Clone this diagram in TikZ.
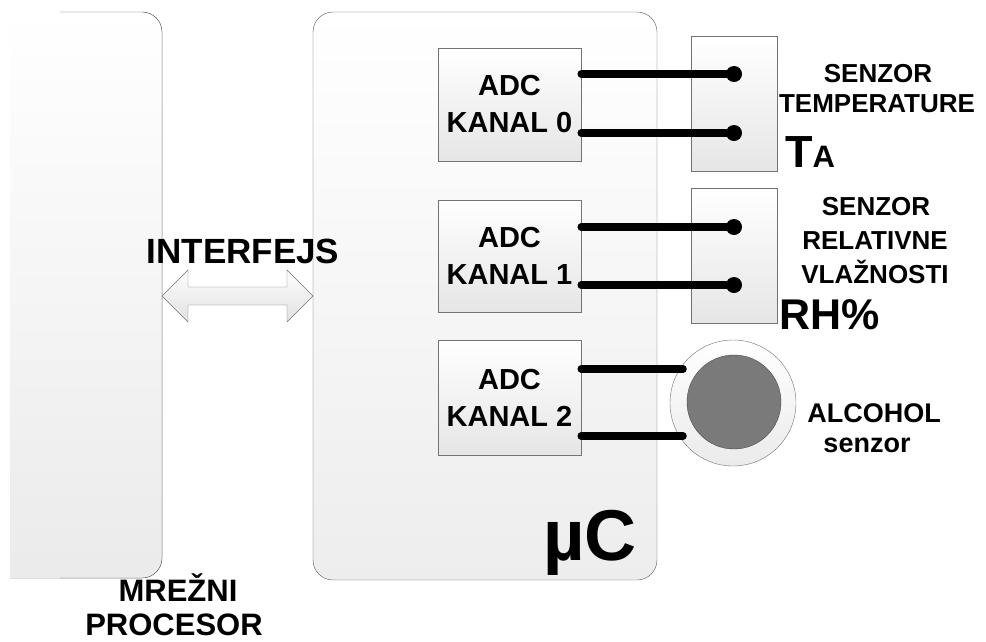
\documentclass[tikz,border=0pt]{standalone}
\usepackage{fontspec}
\setmainfont{Liberation Sans}

\begin{document}
\begin{tikzpicture}[
  x=1pt, y=-1pt,
  frame/.style={draw=black!65, rounded corners=20pt, top color=white, bottom color=black!7},
  adcbox/.style={draw=black!55, top color=white, bottom color=black!10, minimum width=143pt, minimum height=#1, inner sep=0pt,
    align=center, font=\fontsize{29}{37}\selectfont\bfseries},
  sensbox/.style={draw=black!55, top color=white, bottom color=black!10, minimum width=86pt, minimum height=135pt, inner sep=0pt},
  wire/.style={line width=7.5pt, line cap=round},
  pin/.style={circle, fill=black, minimum size=16pt, inner sep=0pt},
  lbl/.style={font=\fontsize{#1}{#1}\selectfont\bfseries, inner sep=0pt, anchor=base},
  lbl/.default=26
]
  \useasboundingbox (0,0) rectangle (986,641);

  % mrezni procesor
  \fill[top color=white, bottom color=black!8] (10,12) -- (142,12) arc[start angle=-90, end angle=0, radius=20]
    -- (162,558) arc[start angle=0, end angle=90, radius=20] -- (10,578) -- cycle;
  \draw[black!65] (60,12) -- (142,12) arc[start angle=-90, end angle=0, radius=20] -- (162,558)
    arc[start angle=0, end angle=90, radius=20] -- (60,578);
  \node[lbl=31] (mp1) at (178,601) {MREŽNI};
  \node[lbl=31] (mp2) at (174,635) {PROCESOR};

  % mikrokontroler
  \node[frame, minimum width=344pt, minimum height=568pt, inner sep=0pt] (uc) at (485,296) {};
  \node[lbl=72, anchor=base east] (ucl) at (637,560) {µC};

  % interfejs
  \draw[black!55, top color=white, bottom color=black!12]
    (162,296) -- (188,270) -- (188,287) -- (287,287) -- (287,270) -- (313,296)
    -- (287,322) -- (287,305) -- (188,305) -- (188,322) -- cycle;
  \node[lbl=35] (ifc) at (243,263) {INTERFEJS};

  % ADC kanali
  \node[adcbox=113pt] (adc0) at (509.5,104.5) {ADC\\KANAL 0};
  \node[adcbox=112pt] (adc1) at (509.5,256) {ADC\\KANAL 1};
  \node[adcbox=115pt] (adc2) at (509.5,397.5) {ADC\\KANAL 2};

  % senzori
  \node[sensbox] (st) at (734,104) {};
  \node[sensbox] (sh) at (734,255.5) {};
  \node[circle, draw=black!55, top color=white, bottom color=black!8, minimum size=126pt, inner sep=0pt] (sa) at (733,403) {};
  \node[circle, draw=black!70, fill=black!52, minimum size=94pt, inner sep=0pt] (sai) at (734,402) {};

  \node[pin] (t0) at (734,74) {};
  \node[pin] (t1) at (734,133) {};
  \node[pin] (h0) at (734,227) {};
  \node[pin] (h1) at (734,285) {};
  \coordinate (a0) at (683,369);
  \coordinate (a1) at (683,436);

  \draw[wire] (adc0.east |- t0) -- (t0.center);
  \draw[wire] (adc0.east |- t1) -- (t1.center);
  \draw[wire] (adc1.east |- h0) -- (h0.center);
  \draw[wire] (adc1.east |- h1) -- (h1.center);
  \draw[wire] (adc2.east |- a0) -- (a0);
  \draw[wire] (adc2.east |- a1) -- (a1);

  % natpisi
  \node[lbl] (st1) at (878,82) {SENZOR};
  \node[lbl] (st2) at (877,112) {TEMPERATURE};
  \node[lbl=45, anchor=base west] (ta) at (785,167) {T\fontsize{31}{31}\selectfont A};
  \node[lbl] (sh1) at (876,215) {SENZOR};
  \node[lbl] (sh2) at (875,249) {RELATIVNE};
  \node[lbl] (sh3) at (875,283) {VLAŽNOSTI};
  \node[lbl=43, anchor=base west] (rh) at (779,329) {RH\%};
  \node[lbl=27] (sa1) at (874,422) {ALCOHOL};
  \node[lbl=27] (sa2) at (867,452) {senzor};
\end{tikzpicture}
\end{document}
